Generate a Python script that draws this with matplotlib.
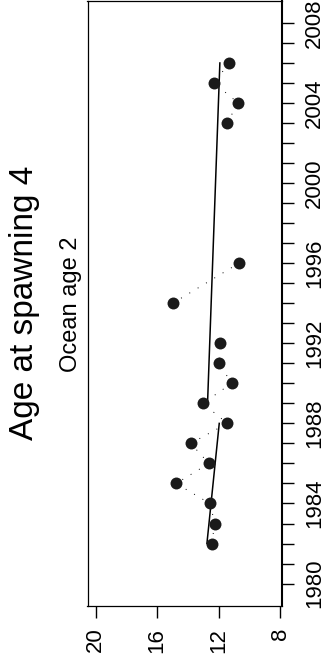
import numpy as np
import matplotlib
matplotlib.use("Agg")
import matplotlib.pyplot as plt

plt.rcParams['font.family'] = ['Liberation Sans', 'DejaVu Sans']

# observed values (year, age at spawning)
years = [1982, 1983, 1984, 1985, 1986, 1987, 1988, 1989, 1990, 1991, 1992,
         1994, 1996, 2003, 2004, 2005, 2006]
values = [12.47, 12.25, 12.58, 14.77, 12.64, 13.82, 11.45, 13.03, 11.17, 11.97,
          11.91, 14.99, 10.69, 11.47, 10.74, 12.30, 11.34]
# which dotted run each point belongs to
runs = [1, 1, 1, 1, 1, 1, 1, 1, 1, 1, 1, 2, 2, 3, 3, 3, 3]

# fitted trend segments
trend1_years = [1982, 1988]
trend1_values = [12.77, 11.97]
trend2_years = [1989, 2006]
trend2_values = [12.73, 11.93]

value_ticks = [20, 16, 12, 8]
year_ticks = list(range(1980, 2009))
year_labels = [str(y) if y % 4 == 0 else '' for y in year_ticks]

W, H = 324, 667
fig = plt.figure(figsize=(W / 100, H / 100), dpi=100)
left, right, top, bottom = 87.5, 281.5, 0.5, 606
ax = fig.add_axes([left / W, 1 - bottom / H, (right - left) / W, (bottom - top) / H])

yrs = np.array(years)
vals = np.array(values)
rn = np.array(runs)
for r in np.unique(rn):
    m = rn == r
    ax.plot(vals[m], yrs[m], color='black', lw=0.7, linestyle=(0, (1, 9)), zorder=2)

ax.plot(trend1_values, trend1_years, color='black', lw=1.1, zorder=3)
ax.plot(trend2_values, trend2_years, color='black', lw=1.1, zorder=3)
ax.plot(vals, yrs, 'o', color='#1a1a1a', ms=8.6, mew=0, zorder=4)

ax.set_xlim(20.52, 7.93)
ax.set_ylim(1978.88, 2009.12)

ax.yaxis.tick_right()
ax.set_yticks(year_ticks)
ax.set_yticklabels(year_labels, rotation=90, va='center', fontsize=16)
ax.set_xticks(value_ticks)
ax.set_xticklabels([str(v) for v in value_ticks], rotation=90, fontsize=16)
ax.tick_params(axis='y', direction='out', length=8.6, width=1.0, pad=7.5)
ax.tick_params(axis='x', direction='out', length=8.6, width=1.0, pad=7)

for s in ax.spines.values():
    s.set_linewidth(0.9)
ax.spines['right'].set_linewidth(1.5)

fig.text(24.5 / W, 1 - 303 / H, 'Age at spawning 4', rotation=90,
         ha='center', va='center', fontsize=24)
fig.text(71.5 / W, 1 - 304 / H, 'Ocean age 2', rotation=90,
         ha='center', va='center', fontsize=17)

fig.savefig('out.png', dpi=100)
